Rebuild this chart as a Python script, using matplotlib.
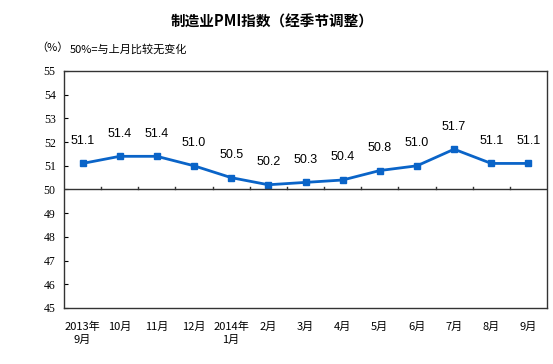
import matplotlib.pyplot as plt

plt.rcParams['font.family'] = ['Noto Sans CJK SC', 'DejaVu Sans']

months = ['2013年\n9月', '10月', '11月', '12月', '2014年\n1月', '2月', '3月',
          '4月', '5月', '6月', '7月', '8月', '9月']
pmi = [51.1, 51.4, 51.4, 51.0, 50.5, 50.2, 50.3, 50.4, 50.8, 51.0, 51.7, 51.1, 51.1]
yticks = [45, 46, 47, 48, 49, 50, 51, 52, 53, 54, 55]

fig = plt.figure(figsize=(5.53, 3.64), dpi=100)
ax = fig.add_axes([64 / 553, 1 - 308 / 364, 483 / 553, 237 / 364])

x = list(range(len(pmi)))
ax.plot(x, pmi, color='#0a64c8', linewidth=2, marker='s', markersize=5)
for xi, v in zip(x, pmi):
    ax.annotate(f'{v:.1f}', (xi, v), xytext=(0, 12), textcoords='offset points',
                ha='center', va='bottom', fontsize=9, family='Liberation Sans')

ax.set_xlim(-0.5, len(pmi) - 0.5)
ax.set_ylim(45, 55)
ax.set_yticks(yticks)
ax.set_yticklabels([str(t) for t in yticks], family='Liberation Serif', fontsize=8.5)
ax.tick_params(axis='y', direction='in', length=3, pad=6)

# x axis drawn at 50 with upward ticks between categories
ax.axhline(50, color='#333333', linewidth=1)
ax.set_xticks(x)
ax.set_xticklabels(months, fontsize=8, linespacing=1.3)
ax.tick_params(axis='x', length=0, pad=10)
for b in range(1, len(pmi)):
    ax.plot([b - 0.5, b - 0.5], [50, 50.12], color='#333333', linewidth=1)

for s in ax.spines.values():
    s.set_color('#333333')
    s.set_linewidth(1)

fig.text(272 / 553, 1 - 22 / 364, '制造业PMI指数（经季节调整）', ha='center', va='center',
         fontsize=10.5, fontweight='bold')
fig.text(36 / 553, 1 - 48 / 364, '（%）', ha='left', va='center', fontsize=8)
fig.text(70 / 553, 1 - 49 / 364, '50%=与上月比较无变化', ha='left', va='center', fontsize=8)

fig.savefig('out.png', dpi=100)
